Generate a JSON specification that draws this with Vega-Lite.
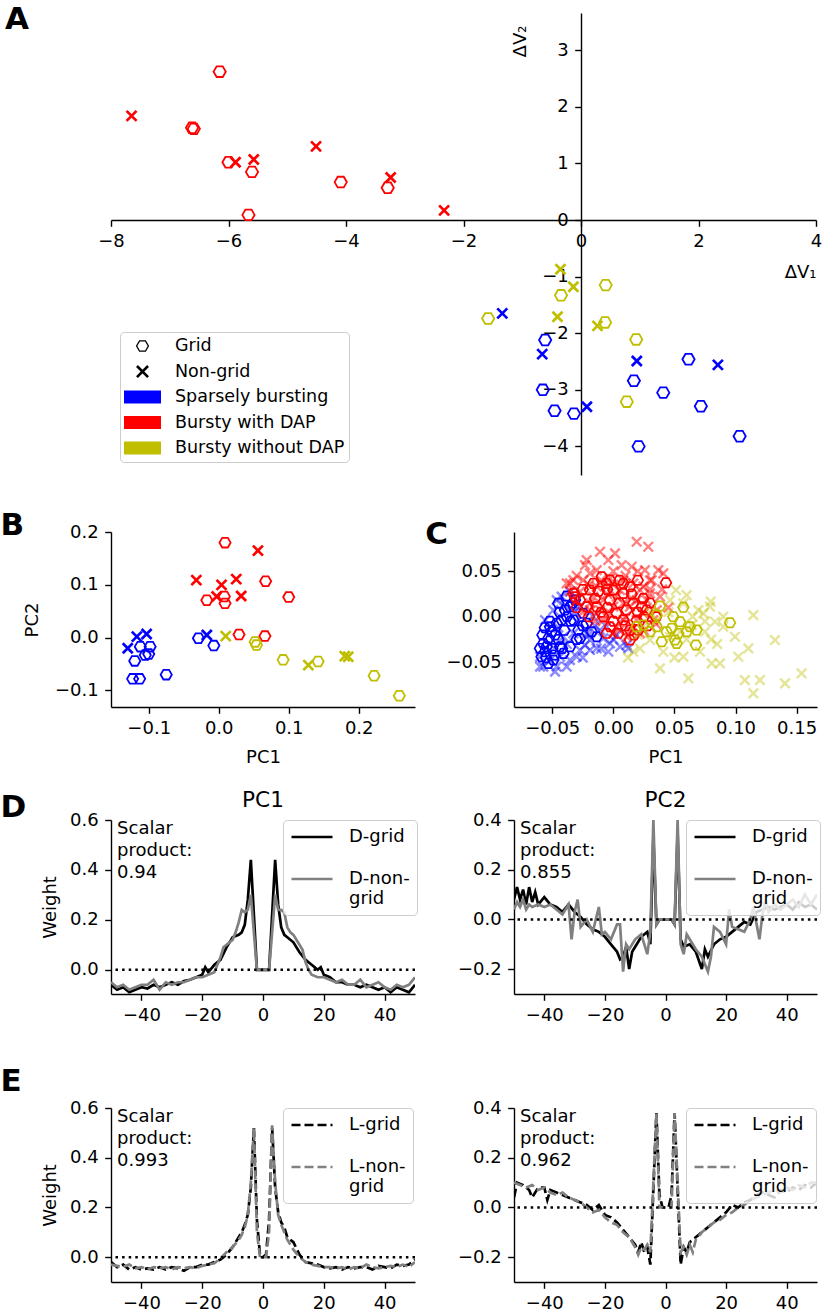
{
"$schema": "https://vega.github.io/schema/vega-lite/v6.json",
"autosize": {"type": "none"},
"padding": {"left": 111, "top": 13, "right": 715, "bottom": 1300},
"background": "white",
"columns": 3,
"bounds": "flush",
"align": "each",
"spacing": {"row": 57, "column": 99},
"resolve": {"scale": {"color": "independent", "shape": "independent"}},
"config": {
  "font": "DejaVu Sans",
  "view": {"stroke": null},
  "axis": {"grid": false, "domainColor": "#000000", "domainWidth": 1.4, "tickColor": "#000000", "tickWidth": 1.4, "tickSize": 6.3, "labelPadding": 6.5, "labelFontSize": 18, "labelColor": "#000000", "titleFontSize": 18, "titleFontWeight": "normal", "titleColor": "#000000", "labelFlush": false, "labelOverlap": false, "labelBound": false},
  "title": {"fontSize": 31, "fontWeight": "bold", "anchor": "start", "frame": "group", "offset": 0, "baseline": "alphabetic", "color": "#000000"},
  "legend": {"labelColor": "#000000", "labelFont": "DejaVu Sans"},
  "text": {"font": "DejaVu Sans", "color": "#000000"}
},
"datasets": {
  "A": [
    {"t":"b","c":"g","x":-6.15,"y":2.62},{"t":"b","c":"g","x":-6.62,"y":1.63},{"t":"b","c":"g","x":-6.59,"y":1.61},{"t":"b","c":"g","x":-6.0,"y":1.02},{"t":"b","c":"g","x":-5.6,"y":0.85},{"t":"b","c":"g","x":-5.66,"y":0.09},{"t":"b","c":"g","x":-4.09,"y":0.67},{"t":"b","c":"g","x":-3.29,"y":0.57},
    {"t":"b","c":"n","x":-7.65,"y":1.84},{"t":"b","c":"n","x":-5.88,"y":1.02},{"t":"b","c":"n","x":-5.57,"y":1.07},{"t":"b","c":"n","x":-4.51,"y":1.30},{"t":"b","c":"n","x":-3.24,"y":0.75},{"t":"b","c":"n","x":-2.33,"y":0.17},
    {"t":"o","c":"g","x":-0.34,"y":-1.33},{"t":"o","c":"g","x":0.42,"y":-1.15},{"t":"o","c":"g","x":-1.58,"y":-1.74},{"t":"o","c":"g","x":0.41,"y":-1.81},{"t":"o","c":"g","x":0.94,"y":-2.11},{"t":"o","c":"g","x":0.78,"y":-3.21},
    {"t":"o","c":"n","x":-0.35,"y":-0.87},{"t":"o","c":"n","x":-0.13,"y":-1.18},{"t":"o","c":"n","x":-0.40,"y":-1.71},{"t":"o","c":"n","x":0.28,"y":-1.87},
    {"t":"s","c":"g","x":-0.61,"y":-2.12},{"t":"s","c":"g","x":-0.65,"y":-3.0},{"t":"s","c":"g","x":-0.45,"y":-3.37},{"t":"s","c":"g","x":-0.12,"y":-3.42},{"t":"s","c":"g","x":0.90,"y":-2.84},{"t":"s","c":"g","x":0.98,"y":-4.0},{"t":"s","c":"g","x":1.40,"y":-3.05},{"t":"s","c":"g","x":1.83,"y":-2.46},{"t":"s","c":"g","x":2.04,"y":-3.29},{"t":"s","c":"g","x":2.70,"y":-3.82},
    {"t":"s","c":"n","x":-1.34,"y":-1.65},{"t":"s","c":"n","x":-0.66,"y":-2.37},{"t":"s","c":"n","x":0.10,"y":-3.30},{"t":"s","c":"n","x":0.95,"y":-2.49},{"t":"s","c":"n","x":2.33,"y":-2.56}
  ],
  "Aleg": [{"leg":"Grid"},{"leg":"Non-grid"},{"leg":"Sparsely bursting"},{"leg":"Bursty with DAP"},{"leg":"Bursty without DAP"}],
  "B": [
    {"t":"s","c":"g","x":-0.112,"y":-0.017},{"t":"s","c":"g","x":-0.098,"y":-0.017},{"t":"s","c":"g","x":-0.100,"y":-0.031},{"t":"s","c":"g","x":-0.105,"y":-0.033},{"t":"s","c":"g","x":-0.120,"y":-0.044},{"t":"s","c":"g","x":-0.123,"y":-0.078},{"t":"s","c":"g","x":-0.113,"y":-0.078},{"t":"s","c":"g","x":-0.075,"y":-0.070},{"t":"s","c":"g","x":-0.029,"y":-0.001},{"t":"s","c":"g","x":-0.007,"y":-0.015},
    {"t":"s","c":"n","x":-0.130,"y":-0.020},{"t":"s","c":"n","x":-0.117,"y":0.002},{"t":"s","c":"n","x":-0.103,"y":0.007},{"t":"s","c":"n","x":-0.017,"y":0.005},
    {"t":"b","c":"g","x":0.009,"y":0.180},{"t":"b","c":"g","x":-0.017,"y":0.071},{"t":"b","c":"g","x":0.008,"y":0.078},{"t":"b","c":"g","x":0.009,"y":0.065},{"t":"b","c":"g","x":0.067,"y":0.107},{"t":"b","c":"g","x":0.029,"y":0.006},{"t":"b","c":"g","x":0.066,"y":0.003},{"t":"b","c":"g","x":0.100,"y":0.077},
    {"t":"b","c":"n","x":0.056,"y":0.165},{"t":"b","c":"n","x":-0.032,"y":0.109},{"t":"b","c":"n","x":0.004,"y":0.100},{"t":"b","c":"n","x":0.025,"y":0.111},{"t":"b","c":"n","x":0.032,"y":0.079},{"t":"b","c":"n","x":-0.003,"y":0.078},
    {"t":"o","c":"g","x":0.052,"y":-0.008},{"t":"o","c":"g","x":0.054,"y":-0.014},{"t":"o","c":"g","x":0.092,"y":-0.042},{"t":"o","c":"g","x":0.142,"y":-0.045},{"t":"o","c":"g","x":0.222,"y":-0.072},{"t":"o","c":"g","x":0.258,"y":-0.110},
    {"t":"o","c":"n","x":0.010,"y":0.003},{"t":"o","c":"n","x":0.128,"y":-0.052},{"t":"o","c":"n","x":0.180,"y":-0.035},{"t":"o","c":"n","x":0.185,"y":-0.036}
  ],
  "C": [
    {"t":"s","c":"n","x":-0.06,"y":-0.0549},{"t":"s","c":"n","x":-0.0477,"y":-0.0604},{"t":"s","c":"n","x":-0.0382,"y":-0.0549},{"t":"s","c":"n","x":-0.0423,"y":0.022},{"t":"s","c":"n","x":-0.0355,"y":0.0275},{"t":"s","c":"n","x":-0.0191,"y":-0.0366},{"t":"s","c":"n","x":-0.0082,"y":-0.0238},{"t":"s","c":"n","x":-0.0027,"y":-0.0293},{"t":"s","c":"n","x":0.0055,"y":-0.033},{"t":"s","c":"n","x":0.0109,"y":-0.0311},{"t":"s","c":"n","x":-0.0109,"y":-0.0147},{"t":"s","c":"n","x":-0.0191,"y":-0.0256},{"t":"s","c":"n","x":-0.0273,"y":-0.0366},{"t":"s","c":"n","x":-0.0464,"y":-0.0549},{"t":"s","c":"n","x":-0.0573,"y":-0.0549},{"t":"s","c":"n","x":-0.0518,"y":-0.0476},{"t":"s","c":"n","x":-0.0409,"y":-0.022},{"t":"s","c":"n","x":-0.0273,"y":0.011},{"t":"s","c":"n","x":-0.0164,"y":0.0},{"t":"s","c":"n","x":-0.0055,"y":-0.011},{"t":"s","c":"n","x":0.0027,"y":-0.0201},{"t":"s","c":"n","x":0.0123,"y":-0.0348},{"t":"s","c":"n","x":-0.0355,"y":-0.0476},{"t":"s","c":"n","x":-0.0232,"y":-0.0311},{"t":"s","c":"n","x":-0.0136,"y":-0.0348},{"t":"s","c":"n","x":-0.0041,"y":-0.0385},{"t":"s","c":"n","x":-0.0559,"y":-0.0037},{"t":"s","c":"n","x":-0.0491,"y":0.0073},{"t":"s","c":"n","x":-0.0464,"y":0.0183},{"t":"s","c":"n","x":-0.0327,"y":-0.0183},{"t":"s","c":"n","x":-0.0218,"y":-0.0183},{"t":"s","c":"n","x":-0.03,"y":-0.044},{"t":"s","c":"n","x":-0.0436,"y":-0.044},{"t":"s","c":"n","x":-0.06,"y":-0.044},{"t":"s","c":"n","x":-0.045,"y":-0.012},{"t":"s","c":"n","x":-0.038,"y":-0.03},{"t":"s","c":"n","x":-0.032,"y":0.005},{"t":"s","c":"n","x":-0.052,"y":-0.03},{"t":"s","c":"n","x":-0.015,"y":-0.01},{"t":"s","c":"n","x":-0.025,"y":-0.045},{"t":"s","c":"n","x":-0.01,"y":-0.035},{"t":"s","c":"n","x":0.0,"y":-0.025},{"t":"s","c":"n","x":-0.02,"y":-0.02},{"t":"s","c":"n","x":-0.03,"y":-0.005},{"t":"s","c":"n","x":-0.04,"y":0.012},
    {"t":"s","c":"g","x":-0.0587,"y":-0.044},{"t":"s","c":"g","x":-0.0559,"y":-0.0385},{"t":"s","c":"g","x":-0.0573,"y":-0.0293},{"t":"s","c":"g","x":-0.0532,"y":-0.0238},{"t":"s","c":"g","x":-0.0505,"y":-0.0165},{"t":"s","c":"g","x":-0.0518,"y":-0.011},{"t":"s","c":"g","x":-0.0464,"y":-0.0073},{"t":"s","c":"g","x":-0.0477,"y":-0.0201},{"t":"s","c":"g","x":-0.0436,"y":-0.033},{"t":"s","c":"g","x":-0.0382,"y":0.0227},{"t":"s","c":"g","x":-0.0423,"y":-0.0037},{"t":"s","c":"g","x":-0.0396,"y":0.0073},{"t":"s","c":"g","x":-0.0355,"y":0.011},{"t":"s","c":"g","x":-0.0327,"y":-0.0037},{"t":"s","c":"g","x":-0.0286,"y":-0.0147},{"t":"s","c":"g","x":-0.0273,"y":-0.0238},{"t":"s","c":"g","x":-0.0355,"y":-0.033},{"t":"s","c":"g","x":-0.0409,"y":-0.0403},{"t":"s","c":"g","x":-0.0491,"y":-0.0476},{"t":"s","c":"g","x":-0.0532,"y":-0.0513},{"t":"s","c":"g","x":-0.0218,"y":-0.0073},{"t":"s","c":"g","x":-0.0177,"y":-0.0165},{"t":"s","c":"g","x":-0.0136,"y":-0.022},{"t":"s","c":"g","x":-0.0314,"y":0.0183},{"t":"s","c":"g","x":-0.0246,"y":0.0037},{"t":"s","c":"g","x":-0.045,"y":0.0147},{"t":"s","c":"g","x":-0.06,"y":-0.0348},{"t":"s","c":"g","x":-0.0546,"y":-0.033},{"t":"s","c":"g","x":-0.058,"y":-0.02},{"t":"s","c":"g","x":-0.055,"y":-0.045},{"t":"s","c":"g","x":-0.05,"y":-0.035},{"t":"s","c":"g","x":-0.045,"y":-0.025},{"t":"s","c":"g","x":-0.04,"y":-0.015},{"t":"s","c":"g","x":-0.035,"y":-0.005},{"t":"s","c":"g","x":-0.048,"y":-0.042},{"t":"s","c":"g","x":-0.042,"y":-0.035},{"t":"s","c":"g","x":-0.038,"y":0.0},{"t":"s","c":"g","x":-0.03,"y":-0.025},{"t":"s","c":"g","x":-0.025,"y":-0.01},{"t":"s","c":"g","x":-0.052,"y":-0.005},{"t":"s","c":"g","x":-0.044,"y":0.005},{"t":"s","c":"g","x":-0.056,"y":-0.012},{"t":"s","c":"g","x":-0.033,"y":0.015},
    {"t":"b","c":"n","x":0.0191,"y":0.0824},{"t":"b","c":"n","x":0.0286,"y":0.0769},{"t":"b","c":"n","x":0.0014,"y":0.0696},{"t":"b","c":"n","x":-0.0109,"y":0.0714},{"t":"b","c":"n","x":-0.0218,"y":0.0623},{"t":"b","c":"n","x":-0.0232,"y":0.0568},{"t":"b","c":"n","x":-0.0327,"y":0.0403},{"t":"b","c":"n","x":-0.0355,"y":0.0366},{"t":"b","c":"n","x":-0.0191,"y":0.0476},{"t":"b","c":"n","x":-0.0041,"y":0.0623},{"t":"b","c":"n","x":0.0068,"y":0.0568},{"t":"b","c":"n","x":0.015,"y":0.0549},{"t":"b","c":"n","x":0.0259,"y":0.0513},{"t":"b","c":"n","x":0.0368,"y":0.0513},{"t":"b","c":"n","x":0.0409,"y":0.0476},{"t":"b","c":"n","x":0.0314,"y":0.0403},{"t":"b","c":"n","x":0.0218,"y":0.0293},{"t":"b","c":"n","x":0.0082,"y":0.0403},{"t":"b","c":"n","x":-0.0027,"y":0.0421},{"t":"b","c":"n","x":-0.0136,"y":0.033},{"t":"b","c":"n","x":-0.0273,"y":0.0275},{"t":"b","c":"n","x":-0.0082,"y":0.0183},{"t":"b","c":"n","x":0.0027,"y":0.022},{"t":"b","c":"n","x":0.0136,"y":0.011},{"t":"b","c":"n","x":0.0246,"y":0.0037},{"t":"b","c":"n","x":0.0355,"y":0.0073},{"t":"b","c":"n","x":0.0136,"y":-0.0147},{"t":"b","c":"n","x":0.0027,"y":-0.011},{"t":"b","c":"n","x":-0.0082,"y":-0.0037},{"t":"b","c":"n","x":-0.0191,"y":0.0073},{"t":"b","c":"n","x":-0.03,"y":0.0183},{"t":"b","c":"n","x":-0.0382,"y":0.0366},{"t":"b","c":"n","x":0.0273,"y":0.0183},{"t":"b","c":"n","x":0.0382,"y":0.022},{"t":"b","c":"n","x":0.0191,"y":-0.0037},{"t":"b","c":"n","x":0.0082,"y":-0.0037},{"t":"b","c":"n","x":-0.0027,"y":0.0037},{"t":"b","c":"n","x":-0.0164,"y":0.022},{"t":"b","c":"n","x":-0.0055,"y":0.033},{"t":"b","c":"n","x":0.0055,"y":0.0293},{"t":"b","c":"n","x":0.0164,"y":0.0366},{"t":"b","c":"n","x":0.0246,"y":0.033},{"t":"b","c":"n","x":-0.0246,"y":0.0403},{"t":"b","c":"n","x":-0.0136,"y":0.0513},{"t":"b","c":"n","x":-0.0191,"y":0.0147},{"t":"b","c":"n","x":-0.0109,"y":0.0073},{"t":"b","c":"n","x":0.0,"y":0.011},{"t":"b","c":"n","x":0.0082,"y":0.0147},{"t":"b","c":"n","x":0.0191,"y":0.0183},{"t":"b","c":"n","x":0.03,"y":0.0256},{"t":"b","c":"n","x":0.0327,"y":-0.0037},{"t":"b","c":"n","x":0.0218,"y":-0.0183},{"t":"b","c":"n","x":0.0109,"y":-0.022},{"t":"b","c":"n","x":0.0,"y":-0.0183},{"t":"b","c":"n","x":-0.03,"y":0.045},{"t":"b","c":"n","x":-0.02,"y":0.035},{"t":"b","c":"n","x":-0.01,"y":0.04},{"t":"b","c":"n","x":0.0,"y":0.05},{"t":"b","c":"n","x":0.01,"y":0.045},{"t":"b","c":"n","x":0.02,"y":0.05},{"t":"b","c":"n","x":0.03,"y":0.04},{"t":"b","c":"n","x":0.04,"y":0.03},{"t":"b","c":"n","x":-0.025,"y":0.005},{"t":"b","c":"n","x":-0.015,"y":-0.005},{"t":"b","c":"n","x":0.005,"y":-0.015},{"t":"b","c":"n","x":0.025,"y":-0.015},{"t":"b","c":"n","x":0.035,"y":-0.008},{"t":"b","c":"n","x":0.045,"y":0.01},{"t":"b","c":"n","x":0.01,"y":0.0},{"t":"b","c":"n","x":-0.005,"y":0.025},{"t":"b","c":"n","x":0.015,"y":0.02},{"t":"b","c":"n","x":0.03,"y":0.03},{"t":"b","c":"n","x":-0.035,"y":0.028},{"t":"b","c":"n","x":0.0,"y":0.035},
    {"t":"b","c":"g","x":0.0431,"y":0.0374},{"t":"b","c":"g","x":-0.0095,"y":0.044},{"t":"b","c":"g","x":-0.0314,"y":0.022},{"t":"b","c":"g","x":0.0136,"y":-0.0256},{"t":"b","c":"g","x":0.0041,"y":-0.0183},{"t":"b","c":"g","x":0.0232,"y":0.011},{"t":"b","c":"g","x":-0.0055,"y":0.0366},{"t":"b","c":"g","x":-0.0191,"y":0.0293},{"t":"b","c":"g","x":-0.0273,"y":0.0183},{"t":"b","c":"g","x":-0.0136,"y":0.011},{"t":"b","c":"g","x":-0.0027,"y":0.0183},{"t":"b","c":"g","x":0.0082,"y":0.0256},{"t":"b","c":"g","x":0.0164,"y":0.0147},{"t":"b","c":"g","x":0.0027,"y":0.0037},{"t":"b","c":"g","x":-0.0082,"y":0.0},{"t":"b","c":"g","x":0.0082,"y":-0.0037},{"t":"b","c":"g","x":0.0191,"y":-0.0037},{"t":"b","c":"g","x":-0.0027,"y":-0.011},{"t":"b","c":"g","x":-0.0218,"y":0.011},{"t":"b","c":"g","x":0.0273,"y":0.0073},{"t":"b","c":"g","x":-0.0164,"y":0.0366},{"t":"b","c":"g","x":0.0082,"y":0.0366},{"t":"b","c":"g","x":0.0136,"y":0.033},{"t":"b","c":"g","x":0.0,"y":0.0293},{"t":"b","c":"g","x":0.0136,"y":-0.0147},{"t":"b","c":"g","x":-0.0055,"y":-0.0183},{"t":"b","c":"g","x":-0.0327,"y":0.0256},{"t":"b","c":"g","x":0.0246,"y":0.0201},{"t":"b","c":"g","x":0.0109,"y":0.0073},{"t":"b","c":"g","x":-0.0027,"y":0.0403},{"t":"b","c":"g","x":0.0205,"y":-0.0147},{"t":"b","c":"g","x":-0.025,"y":0.03},{"t":"b","c":"g","x":-0.015,"y":0.02},{"t":"b","c":"g","x":-0.005,"y":0.03},{"t":"b","c":"g","x":0.005,"y":0.015},{"t":"b","c":"g","x":0.015,"y":0.025},{"t":"b","c":"g","x":0.025,"y":0.0},{"t":"b","c":"g","x":0.03,"y":0.015},{"t":"b","c":"g","x":0.0,"y":-0.005},{"t":"b","c":"g","x":-0.01,"y":0.005},{"t":"b","c":"g","x":-0.02,"y":0.0},{"t":"b","c":"g","x":0.01,"y":-0.01},{"t":"b","c":"g","x":0.02,"y":0.005},{"t":"b","c":"g","x":0.035,"y":0.0},{"t":"b","c":"g","x":-0.03,"y":0.01},{"t":"b","c":"g","x":0.005,"y":0.04},{"t":"b","c":"g","x":0.02,"y":0.04},{"t":"b","c":"g","x":-0.012,"y":0.028},{"t":"b","c":"g","x":0.028,"y":-0.01},{"t":"b","c":"g","x":0.017,"y":-0.02},{"t":"b","c":"g","x":-0.005,"y":0.01},
    {"t":"o","c":"n","x":0.0513,"y":0.0293},{"t":"o","c":"n","x":0.060,"y":0.0238},{"t":"o","c":"n","x":0.0797,"y":0.0165},{"t":"o","c":"n","x":0.1146,"y":0.0018},{"t":"o","c":"n","x":0.1323,"y":-0.0256},{"t":"o","c":"n","x":0.1105,"y":-0.0348},{"t":"o","c":"n","x":0.1023,"y":-0.044},{"t":"o","c":"n","x":0.1541,"y":-0.0623},{"t":"o","c":"n","x":0.1405,"y":-0.0733},{"t":"o","c":"n","x":0.12,"y":-0.0696},{"t":"o","c":"n","x":0.1077,"y":-0.0696},{"t":"o","c":"n","x":0.1146,"y":-0.0842},{"t":"o","c":"n","x":0.0614,"y":-0.0678},{"t":"o","c":"n","x":0.0382,"y":-0.0568},{"t":"o","c":"n","x":0.0573,"y":-0.044},{"t":"o","c":"n","x":0.0805,"y":-0.0513},{"t":"o","c":"n","x":0.0873,"y":-0.0513},{"t":"o","c":"n","x":0.0709,"y":-0.0385},{"t":"o","c":"n","x":0.09,"y":-0.011},{"t":"o","c":"n","x":0.0832,"y":-0.0055},{"t":"o","c":"n","x":0.075,"y":-0.0165},{"t":"o","c":"n","x":0.0641,"y":-0.0092},{"t":"o","c":"n","x":0.0546,"y":-0.0165},{"t":"o","c":"n","x":0.0464,"y":-0.022},{"t":"o","c":"n","x":0.0409,"y":-0.0385},{"t":"o","c":"n","x":0.0218,"y":-0.0348},{"t":"o","c":"n","x":0.0164,"y":-0.0385},{"t":"o","c":"n","x":0.030,"y":-0.0256},{"t":"o","c":"n","x":0.0464,"y":0.0183},{"t":"o","c":"n","x":0.0573,"y":0.0147},{"t":"o","c":"n","x":0.0736,"y":0.0037},{"t":"o","c":"n","x":0.0791,"y":0.011},{"t":"o","c":"n","x":0.090,"y":0.0},{"t":"o","c":"n","x":0.0696,"y":0.0073},{"t":"o","c":"n","x":0.0245,"y":-0.011},{"t":"o","c":"n","x":0.0355,"y":-0.0037},{"t":"o","c":"n","x":0.0996,"y":-0.022},{"t":"o","c":"n","x":0.045,"y":0.005},{"t":"o","c":"n","x":0.06,"y":-0.025},{"t":"o","c":"n","x":0.075,"y":-0.005},{"t":"o","c":"n","x":0.065,"y":0.0},{"t":"o","c":"n","x":0.03,"y":0.005},{"t":"o","c":"n","x":0.02,"y":-0.02},{"t":"o","c":"n","x":0.08,"y":-0.025},{"t":"o","c":"n","x":0.085,"y":-0.03},{"t":"o","c":"n","x":0.012,"y":-0.045},{"t":"o","c":"n","x":0.05,"y":-0.045},
    {"t":"o","c":"g","x":0.0955,"y":-0.0066},{"t":"o","c":"g","x":0.0382,"y":0.0117},{"t":"o","c":"g","x":0.0573,"y":0.0103},{"t":"o","c":"g","x":0.0491,"y":0.0},{"t":"o","c":"g","x":0.0546,"y":-0.0055},{"t":"o","c":"g","x":0.0627,"y":-0.011},{"t":"o","c":"g","x":0.0676,"y":-0.0311},{"t":"o","c":"g","x":0.0518,"y":-0.0293},{"t":"o","c":"g","x":0.0505,"y":-0.0256},{"t":"o","c":"g","x":0.0396,"y":-0.0275},{"t":"o","c":"g","x":0.030,"y":-0.0165},{"t":"o","c":"g","x":0.0245,"y":-0.0092},{"t":"o","c":"g","x":0.0436,"y":-0.0165},{"t":"o","c":"g","x":0.060,"y":-0.0165},{"t":"o","c":"g","x":0.0682,"y":-0.0147},{"t":"o","c":"g","x":0.0355,"y":-0.011},{"t":"o","c":"g","x":0.0477,"y":-0.0128},{"t":"o","c":"g","x":0.0532,"y":-0.0183},{"t":"o","c":"g","x":0.0191,"y":-0.011},{"t":"o","c":"g","x":0.0355,"y":0.0018}
  ],
  "D1": [
    {"s":"D-grid","x":-50,"y":-0.06},{"s":"D-grid","x":-48,"y":-0.08},{"s":"D-grid","x":-46,"y":-0.07},{"s":"D-grid","x":-44,"y":-0.09},{"s":"D-grid","x":-42,"y":-0.08},{"s":"D-grid","x":-40,"y":-0.07},{"s":"D-grid","x":-38,"y":-0.075},{"s":"D-grid","x":-36,"y":-0.06},{"s":"D-grid","x":-34,"y":-0.07},{"s":"D-grid","x":-32,"y":-0.06},{"s":"D-grid","x":-30,"y":-0.05},{"s":"D-grid","x":-28,"y":-0.06},{"s":"D-grid","x":-26,"y":-0.045},{"s":"D-grid","x":-24,"y":-0.04},{"s":"D-grid","x":-22,"y":-0.03},{"s":"D-grid","x":-20,"y":-0.02},{"s":"D-grid","x":-19,"y":0.01},{"s":"D-grid","x":-18,"y":-0.01},{"s":"D-grid","x":-16,"y":0.02},{"s":"D-grid","x":-14,"y":0.04},{"s":"D-grid","x":-12,"y":0.09},{"s":"D-grid","x":-10,"y":0.13},{"s":"D-grid","x":-8,"y":0.14},{"s":"D-grid","x":-7,"y":0.15},{"s":"D-grid","x":-6,"y":0.18},{"s":"D-grid","x":-5,"y":0.28},{"s":"D-grid","x":-4,"y":0.44},{"s":"D-grid","x":-2,"y":0},{"s":"D-grid","x":0,"y":0},{"s":"D-grid","x":2,"y":0},{"s":"D-grid","x":4,"y":0.44},{"s":"D-grid","x":5,"y":0.26},{"s":"D-grid","x":6,"y":0.17},{"s":"D-grid","x":7,"y":0.14},{"s":"D-grid","x":8,"y":0.13},{"s":"D-grid","x":10,"y":0.11},{"s":"D-grid","x":12,"y":0.07},{"s":"D-grid","x":14,"y":0.04},{"s":"D-grid","x":16,"y":0.02},{"s":"D-grid","x":18,"y":0},{"s":"D-grid","x":19,"y":0.01},{"s":"D-grid","x":20,"y":-0.02},{"s":"D-grid","x":22,"y":-0.03},{"s":"D-grid","x":24,"y":-0.05},{"s":"D-grid","x":26,"y":-0.05},{"s":"D-grid","x":28,"y":-0.06},{"s":"D-grid","x":30,"y":-0.06},{"s":"D-grid","x":32,"y":-0.07},{"s":"D-grid","x":34,"y":-0.06},{"s":"D-grid","x":36,"y":-0.07},{"s":"D-grid","x":38,"y":-0.08},{"s":"D-grid","x":40,"y":-0.07},{"s":"D-grid","x":42,"y":-0.09},{"s":"D-grid","x":44,"y":-0.07},{"s":"D-grid","x":46,"y":-0.08},{"s":"D-grid","x":48,"y":-0.09},{"s":"D-grid","x":50,"y":-0.06},
    {"s":"D-non-grid","x":-50,"y":-0.05},{"s":"D-non-grid","x":-48,"y":-0.07},{"s":"D-non-grid","x":-46,"y":-0.06},{"s":"D-non-grid","x":-44,"y":-0.08},{"s":"D-non-grid","x":-42,"y":-0.07},{"s":"D-non-grid","x":-40,"y":-0.06},{"s":"D-non-grid","x":-38,"y":-0.06},{"s":"D-non-grid","x":-36,"y":-0.04},{"s":"D-non-grid","x":-34,"y":-0.08},{"s":"D-non-grid","x":-32,"y":-0.05},{"s":"D-non-grid","x":-30,"y":-0.06},{"s":"D-non-grid","x":-28,"y":-0.05},{"s":"D-non-grid","x":-26,"y":-0.05},{"s":"D-non-grid","x":-24,"y":-0.04},{"s":"D-non-grid","x":-22,"y":-0.03},{"s":"D-non-grid","x":-20,"y":-0.03},{"s":"D-non-grid","x":-18,"y":-0.02},{"s":"D-non-grid","x":-16,"y":-0.01},{"s":"D-non-grid","x":-14,"y":0.05},{"s":"D-non-grid","x":-13,"y":0.09},{"s":"D-non-grid","x":-12,"y":0.10},{"s":"D-non-grid","x":-10,"y":0.12},{"s":"D-non-grid","x":-9,"y":0.15},{"s":"D-non-grid","x":-8,"y":0.19},{"s":"D-non-grid","x":-7,"y":0.24},{"s":"D-non-grid","x":-6,"y":0.23},{"s":"D-non-grid","x":-5,"y":0.24},{"s":"D-non-grid","x":-4,"y":0.30},{"s":"D-non-grid","x":-2,"y":0},{"s":"D-non-grid","x":0,"y":0},{"s":"D-non-grid","x":2,"y":0},{"s":"D-non-grid","x":4,"y":0.30},{"s":"D-non-grid","x":5,"y":0.24},{"s":"D-non-grid","x":6,"y":0.24},{"s":"D-non-grid","x":7,"y":0.23},{"s":"D-non-grid","x":8,"y":0.17},{"s":"D-non-grid","x":9,"y":0.15},{"s":"D-non-grid","x":10,"y":0.14},{"s":"D-non-grid","x":12,"y":0.10},{"s":"D-non-grid","x":13,"y":0.08},{"s":"D-non-grid","x":14,"y":0.03},{"s":"D-non-grid","x":15,"y":0},{"s":"D-non-grid","x":16,"y":-0.02},{"s":"D-non-grid","x":18,"y":-0.03},{"s":"D-non-grid","x":20,"y":-0.03},{"s":"D-non-grid","x":22,"y":-0.04},{"s":"D-non-grid","x":24,"y":-0.05},{"s":"D-non-grid","x":26,"y":-0.04},{"s":"D-non-grid","x":28,"y":-0.06},{"s":"D-non-grid","x":30,"y":-0.06},{"s":"D-non-grid","x":32,"y":-0.04},{"s":"D-non-grid","x":34,"y":-0.07},{"s":"D-non-grid","x":36,"y":-0.06},{"s":"D-non-grid","x":38,"y":-0.05},{"s":"D-non-grid","x":40,"y":-0.07},{"s":"D-non-grid","x":42,"y":-0.08},{"s":"D-non-grid","x":44,"y":-0.06},{"s":"D-non-grid","x":46,"y":-0.07},{"s":"D-non-grid","x":48,"y":-0.06},{"s":"D-non-grid","x":50,"y":-0.03}
  ],
  "D2": [
    {"s":"D-grid","x":-50,"y":0.08},{"s":"D-grid","x":-49,"y":0.13},{"s":"D-grid","x":-48,"y":0.08},{"s":"D-grid","x":-47,"y":0.12},{"s":"D-grid","x":-46,"y":0.06},{"s":"D-grid","x":-45,"y":0.13},{"s":"D-grid","x":-44,"y":0.07},{"s":"D-grid","x":-43,"y":0.11},{"s":"D-grid","x":-42,"y":0.06},{"s":"D-grid","x":-40,"y":0.09},{"s":"D-grid","x":-38,"y":0.06},{"s":"D-grid","x":-36,"y":0.05},{"s":"D-grid","x":-34,"y":0.03},{"s":"D-grid","x":-32,"y":0.06},{"s":"D-grid","x":-30,"y":0.03},{"s":"D-grid","x":-28,"y":0.01},{"s":"D-grid","x":-26,"y":-0.02},{"s":"D-grid","x":-24,"y":-0.04},{"s":"D-grid","x":-22,"y":-0.05},{"s":"D-grid","x":-20,"y":-0.07},{"s":"D-grid","x":-18,"y":-0.1},{"s":"D-grid","x":-16,"y":-0.13},{"s":"D-grid","x":-15,"y":-0.16},{"s":"D-grid","x":-14,"y":-0.15},{"s":"D-grid","x":-13,"y":-0.11},{"s":"D-grid","x":-12,"y":-0.2},{"s":"D-grid","x":-11,"y":-0.13},{"s":"D-grid","x":-10,"y":-0.11},{"s":"D-grid","x":-8,"y":-0.07},{"s":"D-grid","x":-6,"y":-0.05},{"s":"D-grid","x":-5,"y":-0.1},{"s":"D-grid","x":-4,"y":0.33},{"s":"D-grid","x":-3,"y":-0.02},{"s":"D-grid","x":-2,"y":0},{"s":"D-grid","x":0,"y":0},{"s":"D-grid","x":2,"y":0},{"s":"D-grid","x":3,"y":-0.02},{"s":"D-grid","x":4,"y":0.35},{"s":"D-grid","x":5,"y":-0.08},{"s":"D-grid","x":6,"y":-0.11},{"s":"D-grid","x":8,"y":-0.1},{"s":"D-grid","x":10,"y":-0.13},{"s":"D-grid","x":12,"y":-0.2},{"s":"D-grid","x":13,"y":-0.12},{"s":"D-grid","x":14,"y":-0.15},{"s":"D-grid","x":16,"y":-0.1},{"s":"D-grid","x":18,"y":-0.08},{"s":"D-grid","x":20,"y":-0.07},{"s":"D-grid","x":22,"y":-0.05},{"s":"D-grid","x":24,"y":-0.03},{"s":"D-grid","x":26,"y":-0.01},{"s":"D-grid","x":28,"y":-0.02},{"s":"D-grid","x":30,"y":0.03},{"s":"D-grid","x":32,"y":0.04},{"s":"D-grid","x":34,"y":0.05},{"s":"D-grid","x":36,"y":0.04},{"s":"D-grid","x":38,"y":0.05},{"s":"D-grid","x":40,"y":0.06},{"s":"D-grid","x":42,"y":0.04},{"s":"D-grid","x":44,"y":0.07},{"s":"D-grid","x":46,"y":0.05},{"s":"D-grid","x":48,"y":0.06},{"s":"D-grid","x":50,"y":0.04},
    {"s":"D-non-grid","x":-50,"y":0.04},{"s":"D-non-grid","x":-49,"y":0.07},{"s":"D-non-grid","x":-48,"y":0.05},{"s":"D-non-grid","x":-47,"y":0.08},{"s":"D-non-grid","x":-46,"y":0.04},{"s":"D-non-grid","x":-45,"y":0.06},{"s":"D-non-grid","x":-44,"y":0.05},{"s":"D-non-grid","x":-42,"y":0.06},{"s":"D-non-grid","x":-40,"y":0.05},{"s":"D-non-grid","x":-38,"y":0.06},{"s":"D-non-grid","x":-36,"y":0.04},{"s":"D-non-grid","x":-34,"y":0.02},{"s":"D-non-grid","x":-32,"y":0.06},{"s":"D-non-grid","x":-31,"y":-0.08},{"s":"D-non-grid","x":-30,"y":0.03},{"s":"D-non-grid","x":-29,"y":0.08},{"s":"D-non-grid","x":-28,"y":-0.03},{"s":"D-non-grid","x":-26,"y":0},{"s":"D-non-grid","x":-24,"y":-0.05},{"s":"D-non-grid","x":-22,"y":0.05},{"s":"D-non-grid","x":-21,"y":-0.06},{"s":"D-non-grid","x":-20,"y":-0.05},{"s":"D-non-grid","x":-18,"y":-0.08},{"s":"D-non-grid","x":-16,"y":-0.02},{"s":"D-non-grid","x":-15,"y":-0.02},{"s":"D-non-grid","x":-14,"y":-0.21},{"s":"D-non-grid","x":-13,"y":-0.1},{"s":"D-non-grid","x":-12,"y":-0.12},{"s":"D-non-grid","x":-10,"y":-0.08},{"s":"D-non-grid","x":-8,"y":-0.06},{"s":"D-non-grid","x":-6,"y":-0.14},{"s":"D-non-grid","x":-5,"y":-0.05},{"s":"D-non-grid","x":-4,"y":0.4},{"s":"D-non-grid","x":-3,"y":-0.02},{"s":"D-non-grid","x":-2,"y":0},{"s":"D-non-grid","x":0,"y":0},{"s":"D-non-grid","x":2,"y":0},{"s":"D-non-grid","x":3,"y":-0.02},{"s":"D-non-grid","x":4,"y":0.4},{"s":"D-non-grid","x":5,"y":-0.1},{"s":"D-non-grid","x":6,"y":-0.14},{"s":"D-non-grid","x":7,"y":-0.06},{"s":"D-non-grid","x":8,"y":-0.08},{"s":"D-non-grid","x":10,"y":-0.12},{"s":"D-non-grid","x":12,"y":-0.15},{"s":"D-non-grid","x":14,"y":-0.21},{"s":"D-non-grid","x":15,"y":-0.15},{"s":"D-non-grid","x":16,"y":-0.03},{"s":"D-non-grid","x":18,"y":-0.05},{"s":"D-non-grid","x":20,"y":-0.1},{"s":"D-non-grid","x":21,"y":0.04},{"s":"D-non-grid","x":22,"y":-0.03},{"s":"D-non-grid","x":24,"y":-0.04},{"s":"D-non-grid","x":26,"y":-0.05},{"s":"D-non-grid","x":28,"y":0},{"s":"D-non-grid","x":29,"y":0.05},{"s":"D-non-grid","x":31,"y":-0.08},{"s":"D-non-grid","x":32,"y":0.02},{"s":"D-non-grid","x":33,"y":0.08},{"s":"D-non-grid","x":34,"y":0.03},{"s":"D-non-grid","x":36,"y":0.06},{"s":"D-non-grid","x":38,"y":0.04},{"s":"D-non-grid","x":40,"y":0.06},{"s":"D-non-grid","x":42,"y":0.08},{"s":"D-non-grid","x":44,"y":0.05},{"s":"D-non-grid","x":46,"y":0.1},{"s":"D-non-grid","x":48,"y":0.06},{"s":"D-non-grid","x":50,"y":0.1}
  ],
  "E1": [
    {"s":"L-grid","x":-50,"y":-0.02},{"s":"L-grid","x":-48,"y":-0.04},{"s":"L-grid","x":-46,"y":-0.03},{"s":"L-grid","x":-44,"y":-0.05},{"s":"L-grid","x":-42,"y":-0.04},{"s":"L-grid","x":-40,"y":-0.05},{"s":"L-grid","x":-38,"y":-0.045},{"s":"L-grid","x":-36,"y":-0.05},{"s":"L-grid","x":-34,"y":-0.04},{"s":"L-grid","x":-32,"y":-0.05},{"s":"L-grid","x":-30,"y":-0.04},{"s":"L-grid","x":-28,"y":-0.045},{"s":"L-grid","x":-26,"y":-0.055},{"s":"L-grid","x":-24,"y":-0.04},{"s":"L-grid","x":-22,"y":-0.04},{"s":"L-grid","x":-20,"y":-0.03},{"s":"L-grid","x":-18,"y":-0.03},{"s":"L-grid","x":-16,"y":-0.02},{"s":"L-grid","x":-14,"y":-0.01},{"s":"L-grid","x":-12,"y":0.01},{"s":"L-grid","x":-10,"y":0.04},{"s":"L-grid","x":-8,"y":0.08},{"s":"L-grid","x":-7,"y":0.1},{"s":"L-grid","x":-6,"y":0.13},{"s":"L-grid","x":-5,"y":0.17},{"s":"L-grid","x":-4,"y":0.28},{"s":"L-grid","x":-3,"y":0.52},{"s":"L-grid","x":-2,"y":0.15},{"s":"L-grid","x":-1,"y":0.01},{"s":"L-grid","x":0,"y":0},{"s":"L-grid","x":1,"y":0.01},{"s":"L-grid","x":2,"y":0.15},{"s":"L-grid","x":3,"y":0.52},{"s":"L-grid","x":4,"y":0.28},{"s":"L-grid","x":5,"y":0.18},{"s":"L-grid","x":6,"y":0.14},{"s":"L-grid","x":7,"y":0.12},{"s":"L-grid","x":8,"y":0.08},{"s":"L-grid","x":10,"y":0.06},{"s":"L-grid","x":12,"y":0.01},{"s":"L-grid","x":14,"y":-0.02},{"s":"L-grid","x":16,"y":-0.025},{"s":"L-grid","x":18,"y":-0.03},{"s":"L-grid","x":20,"y":-0.04},{"s":"L-grid","x":22,"y":-0.045},{"s":"L-grid","x":24,"y":-0.04},{"s":"L-grid","x":26,"y":-0.05},{"s":"L-grid","x":28,"y":-0.04},{"s":"L-grid","x":30,"y":-0.045},{"s":"L-grid","x":32,"y":-0.04},{"s":"L-grid","x":34,"y":-0.04},{"s":"L-grid","x":36,"y":-0.05},{"s":"L-grid","x":38,"y":-0.035},{"s":"L-grid","x":40,"y":-0.04},{"s":"L-grid","x":42,"y":-0.045},{"s":"L-grid","x":44,"y":-0.03},{"s":"L-grid","x":46,"y":-0.035},{"s":"L-grid","x":48,"y":-0.03},{"s":"L-grid","x":50,"y":-0.01},
    {"s":"L-non-grid","x":-50,"y":-0.03},{"s":"L-non-grid","x":-48,"y":-0.035},{"s":"L-non-grid","x":-46,"y":-0.04},{"s":"L-non-grid","x":-44,"y":-0.03},{"s":"L-non-grid","x":-42,"y":-0.045},{"s":"L-non-grid","x":-40,"y":-0.04},{"s":"L-non-grid","x":-38,"y":-0.05},{"s":"L-non-grid","x":-36,"y":-0.04},{"s":"L-non-grid","x":-34,"y":-0.045},{"s":"L-non-grid","x":-32,"y":-0.04},{"s":"L-non-grid","x":-30,"y":-0.05},{"s":"L-non-grid","x":-28,"y":-0.04},{"s":"L-non-grid","x":-26,"y":-0.045},{"s":"L-non-grid","x":-24,"y":-0.04},{"s":"L-non-grid","x":-22,"y":-0.045},{"s":"L-non-grid","x":-20,"y":-0.035},{"s":"L-non-grid","x":-18,"y":-0.03},{"s":"L-non-grid","x":-16,"y":-0.025},{"s":"L-non-grid","x":-14,"y":-0.005},{"s":"L-non-grid","x":-12,"y":0.02},{"s":"L-non-grid","x":-10,"y":0.04},{"s":"L-non-grid","x":-8,"y":0.07},{"s":"L-non-grid","x":-7,"y":0.09},{"s":"L-non-grid","x":-6,"y":0.12},{"s":"L-non-grid","x":-5,"y":0.17},{"s":"L-non-grid","x":-4,"y":0.3},{"s":"L-non-grid","x":-3,"y":0.52},{"s":"L-non-grid","x":-2,"y":0.1},{"s":"L-non-grid","x":-1,"y":0},{"s":"L-non-grid","x":0,"y":0},{"s":"L-non-grid","x":1,"y":0},{"s":"L-non-grid","x":2,"y":0.1},{"s":"L-non-grid","x":3,"y":0.53},{"s":"L-non-grid","x":4,"y":0.3},{"s":"L-non-grid","x":5,"y":0.17},{"s":"L-non-grid","x":6,"y":0.13},{"s":"L-non-grid","x":7,"y":0.1},{"s":"L-non-grid","x":8,"y":0.07},{"s":"L-non-grid","x":10,"y":0.03},{"s":"L-non-grid","x":12,"y":0},{"s":"L-non-grid","x":14,"y":-0.02},{"s":"L-non-grid","x":16,"y":-0.03},{"s":"L-non-grid","x":18,"y":-0.035},{"s":"L-non-grid","x":20,"y":-0.04},{"s":"L-non-grid","x":22,"y":-0.04},{"s":"L-non-grid","x":24,"y":-0.045},{"s":"L-non-grid","x":26,"y":-0.04},{"s":"L-non-grid","x":28,"y":-0.05},{"s":"L-non-grid","x":30,"y":-0.04},{"s":"L-non-grid","x":32,"y":-0.045},{"s":"L-non-grid","x":34,"y":-0.03},{"s":"L-non-grid","x":36,"y":-0.04},{"s":"L-non-grid","x":38,"y":-0.045},{"s":"L-non-grid","x":40,"y":-0.04},{"s":"L-non-grid","x":42,"y":-0.035},{"s":"L-non-grid","x":44,"y":-0.04},{"s":"L-non-grid","x":46,"y":-0.03},{"s":"L-non-grid","x":48,"y":-0.04},{"s":"L-non-grid","x":50,"y":-0.02}
  ],
  "E2": [
    {"s":"L-grid","x":-50,"y":0.04},{"s":"L-grid","x":-49,"y":0.1},{"s":"L-grid","x":-47,"y":0.09},{"s":"L-grid","x":-45,"y":0.07},{"s":"L-grid","x":-44,"y":0.04},{"s":"L-grid","x":-42,"y":0.08},{"s":"L-grid","x":-40,"y":0.08},{"s":"L-grid","x":-39,"y":0.03},{"s":"L-grid","x":-38,"y":0.07},{"s":"L-grid","x":-36,"y":0.06},{"s":"L-grid","x":-34,"y":0.05},{"s":"L-grid","x":-32,"y":0.04},{"s":"L-grid","x":-30,"y":0.03},{"s":"L-grid","x":-28,"y":0.02},{"s":"L-grid","x":-26,"y":0.01},{"s":"L-grid","x":-24,"y":-0.01},{"s":"L-grid","x":-22,"y":0.01},{"s":"L-grid","x":-21,"y":-0.01},{"s":"L-grid","x":-20,"y":-0.03},{"s":"L-grid","x":-18,"y":-0.04},{"s":"L-grid","x":-16,"y":-0.06},{"s":"L-grid","x":-14,"y":-0.09},{"s":"L-grid","x":-12,"y":-0.12},{"s":"L-grid","x":-10,"y":-0.15},{"s":"L-grid","x":-9,"y":-0.18},{"s":"L-grid","x":-8,"y":-0.14},{"s":"L-grid","x":-7,"y":-0.18},{"s":"L-grid","x":-6,"y":-0.16},{"s":"L-grid","x":-5,"y":-0.23},{"s":"L-grid","x":-3,"y":0.38},{"s":"L-grid","x":-2,"y":0.05},{"s":"L-grid","x":-1,"y":0},{"s":"L-grid","x":0,"y":0},{"s":"L-grid","x":1,"y":0},{"s":"L-grid","x":2,"y":0.05},{"s":"L-grid","x":3,"y":0.38},{"s":"L-grid","x":5,"y":-0.23},{"s":"L-grid","x":6,"y":-0.16},{"s":"L-grid","x":7,"y":-0.18},{"s":"L-grid","x":8,"y":-0.14},{"s":"L-grid","x":9,"y":-0.13},{"s":"L-grid","x":10,"y":-0.12},{"s":"L-grid","x":12,"y":-0.1},{"s":"L-grid","x":14,"y":-0.08},{"s":"L-grid","x":16,"y":-0.06},{"s":"L-grid","x":18,"y":-0.04},{"s":"L-grid","x":20,"y":-0.02},{"s":"L-grid","x":22,"y":0.01},{"s":"L-grid","x":24,"y":0},{"s":"L-grid","x":26,"y":0.02},{"s":"L-grid","x":28,"y":0.03},{"s":"L-grid","x":30,"y":0.05},{"s":"L-grid","x":32,"y":0.06},{"s":"L-grid","x":34,"y":0.05},{"s":"L-grid","x":36,"y":0.04},{"s":"L-grid","x":38,"y":0.07},{"s":"L-grid","x":40,"y":0.06},{"s":"L-grid","x":42,"y":0.08},{"s":"L-grid","x":44,"y":0.07},{"s":"L-grid","x":46,"y":0.09},{"s":"L-grid","x":48,"y":0.08},{"s":"L-grid","x":50,"y":0.1},
    {"s":"L-non-grid","x":-50,"y":0.1},{"s":"L-non-grid","x":-48,"y":0.09},{"s":"L-non-grid","x":-46,"y":0.08},{"s":"L-non-grid","x":-44,"y":0.09},{"s":"L-non-grid","x":-42,"y":0.07},{"s":"L-non-grid","x":-40,"y":0.08},{"s":"L-non-grid","x":-38,"y":0.06},{"s":"L-non-grid","x":-36,"y":0.05},{"s":"L-non-grid","x":-34,"y":0.06},{"s":"L-non-grid","x":-32,"y":0.04},{"s":"L-non-grid","x":-30,"y":0.03},{"s":"L-non-grid","x":-28,"y":0.02},{"s":"L-non-grid","x":-26,"y":0},{"s":"L-non-grid","x":-24,"y":-0.02},{"s":"L-non-grid","x":-22,"y":-0.01},{"s":"L-non-grid","x":-20,"y":-0.04},{"s":"L-non-grid","x":-18,"y":-0.06},{"s":"L-non-grid","x":-16,"y":-0.07},{"s":"L-non-grid","x":-14,"y":-0.1},{"s":"L-non-grid","x":-12,"y":-0.12},{"s":"L-non-grid","x":-10,"y":-0.16},{"s":"L-non-grid","x":-9,"y":-0.19},{"s":"L-non-grid","x":-8,"y":-0.16},{"s":"L-non-grid","x":-7,"y":-0.17},{"s":"L-non-grid","x":-6,"y":-0.15},{"s":"L-non-grid","x":-5,"y":-0.18},{"s":"L-non-grid","x":-3,"y":0.38},{"s":"L-non-grid","x":-2,"y":0},{"s":"L-non-grid","x":0,"y":0},{"s":"L-non-grid","x":2,"y":0},{"s":"L-non-grid","x":3,"y":0.38},{"s":"L-non-grid","x":5,"y":-0.18},{"s":"L-non-grid","x":6,"y":-0.16},{"s":"L-non-grid","x":7,"y":-0.19},{"s":"L-non-grid","x":8,"y":-0.15},{"s":"L-non-grid","x":9,"y":-0.18},{"s":"L-non-grid","x":10,"y":-0.13},{"s":"L-non-grid","x":12,"y":-0.1},{"s":"L-non-grid","x":14,"y":-0.08},{"s":"L-non-grid","x":16,"y":-0.06},{"s":"L-non-grid","x":18,"y":-0.05},{"s":"L-non-grid","x":20,"y":-0.03},{"s":"L-non-grid","x":22,"y":-0.02},{"s":"L-non-grid","x":24,"y":0},{"s":"L-non-grid","x":26,"y":0.01},{"s":"L-non-grid","x":28,"y":0.03},{"s":"L-non-grid","x":30,"y":0.04},{"s":"L-non-grid","x":32,"y":0.05},{"s":"L-non-grid","x":34,"y":0.06},{"s":"L-non-grid","x":36,"y":0.07},{"s":"L-non-grid","x":38,"y":0.06},{"s":"L-non-grid","x":40,"y":0.08},{"s":"L-non-grid","x":42,"y":0.07},{"s":"L-non-grid","x":44,"y":0.09},{"s":"L-non-grid","x":46,"y":0.08},{"s":"L-non-grid","x":48,"y":0.1},{"s":"L-non-grid","x":50,"y":0.1}
  ]
},
"concat": [
  {
    "width": 304, "height": 462,
    "title": {"text": "A", "dx": -106, "dy": 27},
    "layer": [
      {
        "data": {"name": "A"},
        "encoding": {
          "x": {"field": "x", "type": "quantitative", "scale": {"domain": [-8, 4], "range": [0, 705], "nice": false, "zero": false}, "axis": {"orient": "bottom", "offset": -255, "values": [-8, -6, -4, -2, 0, 2, 4], "format": "d", "title": "ΔV₁", "titleX": 705, "titleY": 57, "titleAlign": "right", "titleBaseline": "alphabetic", "titleAngle": 0}},
          "y": {"field": "y", "type": "quantitative", "scale": {"domain": [-4.505, 3.657], "nice": false, "zero": false}, "axis": {"orient": "left", "offset": -470, "values": [-4, -3, -2, -1, 0, 1, 2, 3], "format": "d", "title": "ΔV₂", "titleX": -61, "titleY": 28, "titleAngle": -90, "titleAlign": "center", "titleBaseline": "middle"}}
        },
        "layer": [
          {"transform": [{"filter": "datum.t == 's' && datum.c == 'g'"}], "mark": {"type": "point", "shape": "M-1,0L-0.5,-0.866L0.5,-0.866L1,0L0.5,0.866L-0.5,0.866Z", "filled": false, "color": "#0000ff", "strokeWidth": 1.8, "size": 150, "opacity": 1}},
          {"transform": [{"filter": "datum.t == 's' && datum.c == 'n'"}], "mark": {"type": "point", "shape": "M-1,-1L1,1M-1,1L1,-1", "filled": false, "color": "#0000ff", "strokeWidth": 2.7, "size": 100, "opacity": 1}},
          {"transform": [{"filter": "datum.t == 'b' && datum.c == 'g'"}], "mark": {"type": "point", "shape": "M-1,0L-0.5,-0.866L0.5,-0.866L1,0L0.5,0.866L-0.5,0.866Z", "filled": false, "color": "#ff0000", "strokeWidth": 1.8, "size": 150, "opacity": 1}},
          {"transform": [{"filter": "datum.t == 'b' && datum.c == 'n'"}], "mark": {"type": "point", "shape": "M-1,-1L1,1M-1,1L1,-1", "filled": false, "color": "#ff0000", "strokeWidth": 2.7, "size": 100, "opacity": 1}},
          {"transform": [{"filter": "datum.t == 'o' && datum.c == 'g'"}], "mark": {"type": "point", "shape": "M-1,0L-0.5,-0.866L0.5,-0.866L1,0L0.5,0.866L-0.5,0.866Z", "filled": false, "color": "#bfbf00", "strokeWidth": 1.8, "size": 150, "opacity": 1}},
          {"transform": [{"filter": "datum.t == 'o' && datum.c == 'n'"}], "mark": {"type": "point", "shape": "M-1,-1L1,1M-1,1L1,-1", "filled": false, "color": "#bfbf00", "strokeWidth": 2.7, "size": 100, "opacity": 1}}
        ]
      },
      {
        "data": {"name": "Aleg"},
        "mark": {"type": "point", "filled": true, "opacity": 0, "size": 1369},
        "encoding": {
          "color": {"field": "leg", "type": "nominal", "scale": {"domain": ["Grid", "Non-grid", "Sparsely bursting", "Bursty with DAP", "Bursty without DAP"], "range": ["#000000", "#000000", "#0000ff", "#ff0000", "#bfbf00"]}, "legend": {"title": null, "orient": "none", "legendX": 9, "legendY": 319, "padding": 4, "clipHeight": 20, "rowPadding": 5.5, "labelOffset": 14, "labelLimit": 400, "symbolSize": 1369, "symbolStrokeWidth": 0, "symbolOpacity": 1, "labelFontSize": 17.5, "fillColor": "rgba(255,255,255,0.8)", "strokeColor": "#cccccc", "cornerRadius": 4}},
          "shape": {"field": "leg", "type": "nominal", "scale": {"domain": ["Grid", "Non-grid", "Sparsely bursting", "Bursty with DAP", "Bursty without DAP"], "range": ["M-0.36,0L-0.18,-0.312L0.18,-0.312L0.36,0L0.18,0.312L-0.18,0.312ZM-0.28,0L-0.14,0.242L0.14,0.242L0.28,0L0.14,-0.242L-0.14,-0.242Z", "M-0.25,-0.35L0.35,0.25L0.25,0.35L-0.35,-0.25ZM-0.25,0.35L-0.35,0.25L0.25,-0.35L0.35,-0.25Z", "M-1,-0.35L1,-0.35L1,0.35L-1,0.35Z", "M-1,-0.35L1,-0.35L1,0.35L-1,0.35Z", "M-1,-0.35L1,-0.35L1,0.35L-1,0.35Z"]}, "legend": {"title": null, "orient": "none", "legendX": 9, "legendY": 319, "padding": 4, "clipHeight": 20, "rowPadding": 5.5, "labelOffset": 14, "labelLimit": 400, "symbolSize": 1369, "symbolStrokeWidth": 0, "symbolOpacity": 1, "labelFontSize": 17.5, "fillColor": "rgba(255,255,255,0.8)", "strokeColor": "#cccccc", "cornerRadius": 4}}
        }
      }
    ]
  },
  {"width": 1, "height": 1, "data": {"values": [{"z": 0}]}, "mark": {"type": "point", "opacity": 0}, "encoding": {}},
  {"width": 1, "height": 1, "data": {"values": [{"z": 0}]}, "mark": {"type": "point", "opacity": 0}, "encoding": {}},
  {
    "width": 304, "height": 175,
    "title": {"text": "B", "dx": -110.5, "dy": 23},
    "data": {"name": "B"},
    "encoding": {
      "x": {"field": "x", "type": "quantitative", "scale": {"domain": [-0.1539, 0.2804], "nice": false, "zero": false}, "axis": {"values": [-0.1, 0, 0.1, 0.2], "format": ".1f", "title": "PC1", "titlePadding": 11}},
      "y": {"field": "y", "type": "quantitative", "scale": {"domain": [-0.1313, 0.2002], "nice": false, "zero": false}, "axis": {"values": [-0.1, 0, 0.1, 0.2], "format": ".1f", "title": "PC2", "titlePadding": 13}}
    },
    "layer": [
      {"transform": [{"filter": "datum.t == 's' && datum.c == 'g'"}], "mark": {"type": "point", "shape": "M-1,0L-0.5,-0.866L0.5,-0.866L1,0L0.5,0.866L-0.5,0.866Z", "filled": false, "color": "#0000ff", "strokeWidth": 1.8, "size": 125, "opacity": 1}},
      {"transform": [{"filter": "datum.t == 's' && datum.c == 'n'"}], "mark": {"type": "point", "shape": "M-1,-1L1,1M-1,1L1,-1", "filled": false, "color": "#0000ff", "strokeWidth": 2.7, "size": 100, "opacity": 1}},
      {"transform": [{"filter": "datum.t == 'b' && datum.c == 'g'"}], "mark": {"type": "point", "shape": "M-1,0L-0.5,-0.866L0.5,-0.866L1,0L0.5,0.866L-0.5,0.866Z", "filled": false, "color": "#ff0000", "strokeWidth": 1.8, "size": 125, "opacity": 1}},
      {"transform": [{"filter": "datum.t == 'b' && datum.c == 'n'"}], "mark": {"type": "point", "shape": "M-1,-1L1,1M-1,1L1,-1", "filled": false, "color": "#ff0000", "strokeWidth": 2.7, "size": 100, "opacity": 1}},
      {"transform": [{"filter": "datum.t == 'o' && datum.c == 'g'"}], "mark": {"type": "point", "shape": "M-1,0L-0.5,-0.866L0.5,-0.866L1,0L0.5,0.866L-0.5,0.866Z", "filled": false, "color": "#bfbf00", "strokeWidth": 1.8, "size": 125, "opacity": 1}},
      {"transform": [{"filter": "datum.t == 'o' && datum.c == 'n'"}], "mark": {"type": "point", "shape": "M-1,-1L1,1M-1,1L1,-1", "filled": false, "color": "#bfbf00", "strokeWidth": 2.7, "size": 100, "opacity": 1}}
    ]
  },
  {
    "width": 303, "height": 175,
    "title": {"text": "C", "dx": -88.8, "dy": 23},
    "data": {"name": "C"},
    "encoding": {
      "x": {"field": "x", "type": "quantitative", "scale": {"domain": [-0.0813, 0.1667], "nice": false, "zero": false}, "axis": {"values": [-0.05, 0, 0.05, 0.1, 0.15], "format": ".2f", "title": "PC1", "titlePadding": 11}},
      "y": {"field": "y", "type": "quantitative", "scale": {"domain": [-0.0992, 0.0931], "nice": false, "zero": false}, "axis": {"values": [-0.05, 0, 0.05], "format": ".2f", "title": null}}
    },
    "layer": [
      {"transform": [{"filter": "datum.t == 's' && datum.c == 'n'"}], "mark": {"type": "point", "shape": "M-1,-1L1,1M-1,1L1,-1", "filled": false, "color": "#0000ff", "strokeWidth": 2.4, "size": 90, "opacity": 0.45}},
      {"transform": [{"filter": "datum.t == 's' && datum.c == 'g'"}], "mark": {"type": "point", "shape": "M-1,0L-0.5,-0.866L0.5,-0.866L1,0L0.5,0.866L-0.5,0.866Z", "filled": false, "color": "#0000ff", "strokeWidth": 1.7, "size": 115, "opacity": 1}},
      {"transform": [{"filter": "datum.t == 'b' && datum.c == 'n'"}], "mark": {"type": "point", "shape": "M-1,-1L1,1M-1,1L1,-1", "filled": false, "color": "#ff0000", "strokeWidth": 2.4, "size": 90, "opacity": 0.5}},
      {"transform": [{"filter": "datum.t == 'b' && datum.c == 'g'"}], "mark": {"type": "point", "shape": "M-1,0L-0.5,-0.866L0.5,-0.866L1,0L0.5,0.866L-0.5,0.866Z", "filled": false, "color": "#ff0000", "strokeWidth": 1.7, "size": 115, "opacity": 1}},
      {"transform": [{"filter": "datum.t == 'o' && datum.c == 'n'"}], "mark": {"type": "point", "shape": "M-1,-1L1,1M-1,1L1,-1", "filled": false, "color": "#bfbf00", "strokeWidth": 2.4, "size": 90, "opacity": 0.4}},
      {"transform": [{"filter": "datum.t == 'o' && datum.c == 'g'"}], "mark": {"type": "point", "shape": "M-1,0L-0.5,-0.866L0.5,-0.866L1,0L0.5,0.866L-0.5,0.866Z", "filled": false, "color": "#bfbf00", "strokeWidth": 1.7, "size": 115, "opacity": 1}}
    ]
  },
  {"width": 1, "height": 231, "data": {"values": [{"z": 0}]}, "mark": {"type": "point", "opacity": 0}, "encoding": {}},
  {
    "width": 304, "height": 174,
    "title": {"text": "D", "dx": -110.5, "dy": 38},
    "layer": [
      {"data": {"name": "D1"}, "mark": {"type": "line", "strokeWidth": 2.7, "clip": true},
       "encoding": {
         "x": {"field": "x", "type": "quantitative", "scale": {"domain": [-50, 50], "nice": false, "zero": false}, "axis": {"values": [-40, -20, 0, 20, 40], "format": "d", "title": null}},
         "y": {"field": "y", "type": "quantitative", "scale": {"domain": [-0.097, 0.6], "nice": false, "zero": false}, "axis": {"values": [0, 0.2, 0.4, 0.6], "format": ".1f", "title": "Weight", "titlePadding": 10}},
         "color": {"field": "s", "type": "nominal", "scale": {"domain": ["D-grid", "D-non-grid"], "range": ["#000000", "#808080"]}, "legend": {"title": null, "orient": "none", "legendX": 172, "legendY": 0, "symbolType": "stroke", "symbolSize": 1681, "symbolStrokeWidth": 2.7, "labelFontSize": 18, "labelOffset": 15, "padding": 7, "clipHeight": 20, "rowPadding": 22, "fillColor": "rgba(255,255,255,0.8)", "strokeColor": "#cccccc", "cornerRadius": 4, "labelExpr": "datum.label == 'D-non-grid' ? ['D-non-', 'grid'] : datum.label"}}
       }},
      {"data": {"values": [{"y": 0}]}, "mark": {"type": "rule", "strokeDash": [2.5, 4.1], "strokeWidth": 2.5, "color": "#000000"}, "encoding": {"y": {"field": "y", "type": "quantitative"}}},
      {"data": {"values": [{"label": "Scalar\nproduct:\n0.94"}]}, "mark": {"type": "text", "align": "left", "baseline": "top", "fontSize": 18, "lineBreak": "\n", "lineHeight": 22}, "encoding": {"x": {"datum": -48}, "y": {"datum": 0.6}, "text": {"field": "label"}}},
      {"data": {"values": [{"label": "PC1"}]}, "mark": {"type": "text", "align": "center", "baseline": "alphabetic", "fontSize": 21.6, "dy": -13}, "encoding": {"x": {"datum": 0}, "y": {"datum": 0.6}, "text": {"field": "label"}}}
    ]
  },
  {
    "width": 303, "height": 174,
    "layer": [
      {"data": {"name": "D2"}, "mark": {"type": "line", "strokeWidth": 2.7, "clip": true},
       "encoding": {
         "x": {"field": "x", "type": "quantitative", "scale": {"domain": [-50, 50], "nice": false, "zero": false}, "axis": {"values": [-40, -20, 0, 20, 40], "format": "d", "title": null}},
         "y": {"field": "y", "type": "quantitative", "scale": {"domain": [-0.3, 0.4], "nice": false, "zero": false}, "axis": {"values": [-0.2, 0, 0.2, 0.4], "format": ".1f", "title": null}},
         "color": {"field": "s", "type": "nominal", "scale": {"domain": ["D-grid", "D-non-grid"], "range": ["#000000", "#808080"]}, "legend": {"title": null, "orient": "none", "legendX": 172, "legendY": 0, "symbolType": "stroke", "symbolSize": 1681, "symbolStrokeWidth": 2.7, "labelFontSize": 18, "labelOffset": 15, "padding": 7, "clipHeight": 20, "rowPadding": 22, "fillColor": "rgba(255,255,255,0.8)", "strokeColor": "#cccccc", "cornerRadius": 4, "labelExpr": "datum.label == 'D-non-grid' ? ['D-non-', 'grid'] : datum.label"}}
       }},
      {"data": {"values": [{"y": 0}]}, "mark": {"type": "rule", "strokeDash": [2.5, 4.1], "strokeWidth": 2.5, "color": "#000000"}, "encoding": {"y": {"field": "y", "type": "quantitative"}}},
      {"data": {"values": [{"label": "Scalar\nproduct:\n0.855"}]}, "mark": {"type": "text", "align": "left", "baseline": "top", "fontSize": 18, "lineBreak": "\n", "lineHeight": 22}, "encoding": {"x": {"datum": -48}, "y": {"datum": 0.4}, "text": {"field": "label"}}},
      {"data": {"values": [{"label": "PC2"}]}, "mark": {"type": "text", "align": "center", "baseline": "alphabetic", "fontSize": 21.6, "dy": -13}, "encoding": {"x": {"datum": 0}, "y": {"datum": 0.4}, "text": {"field": "label"}}}
    ]
  },
  {"width": 1, "height": 231, "data": {"values": [{"z": 0}]}, "mark": {"type": "point", "opacity": 0}, "encoding": {}},
  {
    "width": 304, "height": 174,
    "title": {"text": "E", "dx": -110.5, "dy": 3.3},
    "layer": [
      {"data": {"name": "E1"}, "mark": {"type": "line", "strokeWidth": 2.7, "strokeDash": [9, 4], "clip": true},
       "encoding": {
         "x": {"field": "x", "type": "quantitative", "scale": {"domain": [-50, 50], "nice": false, "zero": false}, "axis": {"values": [-40, -20, 0, 20, 40], "format": "d", "title": null}},
         "y": {"field": "y", "type": "quantitative", "scale": {"domain": [-0.1, 0.6], "nice": false, "zero": false}, "axis": {"values": [0, 0.2, 0.4, 0.6], "format": ".1f", "title": "Weight", "titlePadding": 10}},
         "color": {"field": "s", "type": "nominal", "scale": {"domain": ["L-grid", "L-non-grid"], "range": ["#000000", "#808080"]}, "legend": {"title": null, "orient": "none", "legendX": 172, "legendY": 0, "symbolType": "stroke", "symbolSize": 1681, "symbolStrokeWidth": 2.7, "symbolDash": [9, 4], "labelFontSize": 18, "labelOffset": 15, "padding": 7, "clipHeight": 20, "rowPadding": 22, "fillColor": "rgba(255,255,255,0.8)", "strokeColor": "#cccccc", "cornerRadius": 4, "labelExpr": "datum.label == 'L-non-grid' ? ['L-non-', 'grid'] : datum.label"}}
       }},
      {"data": {"values": [{"y": 0}]}, "mark": {"type": "rule", "strokeDash": [2.5, 4.1], "strokeWidth": 2.5, "color": "#000000"}, "encoding": {"y": {"field": "y", "type": "quantitative"}}},
      {"data": {"values": [{"label": "Scalar\nproduct:\n0.993"}]}, "mark": {"type": "text", "align": "left", "baseline": "top", "fontSize": 18, "lineBreak": "\n", "lineHeight": 22}, "encoding": {"x": {"datum": -48}, "y": {"datum": 0.6}, "text": {"field": "label"}}}
    ]
  },
  {
    "width": 303, "height": 174,
    "layer": [
      {"data": {"name": "E2"}, "mark": {"type": "line", "strokeWidth": 2.7, "strokeDash": [9, 4], "clip": true},
       "encoding": {
         "x": {"field": "x", "type": "quantitative", "scale": {"domain": [-50, 50], "nice": false, "zero": false}, "axis": {"values": [-40, -20, 0, 20, 40], "format": "d", "title": null}},
         "y": {"field": "y", "type": "quantitative", "scale": {"domain": [-0.3, 0.4], "nice": false, "zero": false}, "axis": {"values": [-0.2, 0, 0.2, 0.4], "format": ".1f", "title": null}},
         "color": {"field": "s", "type": "nominal", "scale": {"domain": ["L-grid", "L-non-grid"], "range": ["#000000", "#808080"]}, "legend": {"title": null, "orient": "none", "legendX": 172, "legendY": 0, "symbolType": "stroke", "symbolSize": 1681, "symbolStrokeWidth": 2.7, "symbolDash": [9, 4], "labelFontSize": 18, "labelOffset": 15, "padding": 7, "clipHeight": 20, "rowPadding": 22, "fillColor": "rgba(255,255,255,0.8)", "strokeColor": "#cccccc", "cornerRadius": 4, "labelExpr": "datum.label == 'L-non-grid' ? ['L-non-', 'grid'] : datum.label"}}
       }},
      {"data": {"values": [{"y": 0}]}, "mark": {"type": "rule", "strokeDash": [2.5, 4.1], "strokeWidth": 2.5, "color": "#000000"}, "encoding": {"y": {"field": "y", "type": "quantitative"}}},
      {"data": {"values": [{"label": "Scalar\nproduct:\n0.962"}]}, "mark": {"type": "text", "align": "left", "baseline": "top", "fontSize": 18, "lineBreak": "\n", "lineHeight": 22}, "encoding": {"x": {"datum": -48}, "y": {"datum": 0.4}, "text": {"field": "label"}}}
    ]
  }
]
}
